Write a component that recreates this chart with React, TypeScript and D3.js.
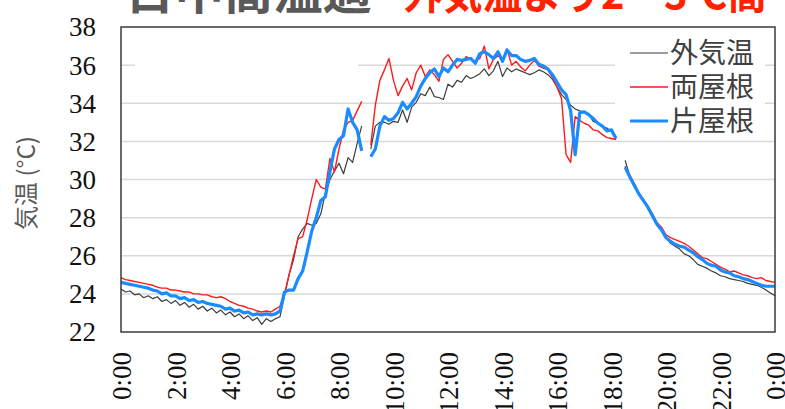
import React from "react";
import * as d3 from "d3";

// 10-minute readings, 0:00 → 24:00 (145 points); null = logger gap
const hours: number[] = Array.from({ length: 145 }, (_, i) => i / 6);

const outside: (number | null)[] = [
  24.25, 24.1, 24.15, 23.95, 24.0, 23.8, 23.9, 23.75, 23.85, 23.6,
  23.7, 23.5, 23.65, 23.4, 23.55, 23.3, 23.45, 23.2, 23.35, 23.1,
  23.25, 23.0, 23.15, 22.9, 23.05, 22.8, 22.95, 22.7, 22.85, 22.6,
  22.75, 22.4, 22.7, 22.55, 22.7, 22.8, 23.9, 25.0, 25.8, 27.0,
  27.4, 27.7, 27.6, 27.7, 28.2, 29.3, 30.0, 30.45, 30.85, 30.3,
  31.15, 30.9, 31.9, 32.8, null, 31.6, 32.8, 33.0, 33.0, 32.9,
  33.05, 33.0, 33.65, 33.0, 33.8, 34.05, 34.5, 34.4, 34.85, 34.35,
  34.3, 34.2, 35.0, 34.85, 35.2, 35.1, 35.45, 35.3, 35.4, 35.55,
  35.8, 35.45, 35.7, 36.2, 35.4, 35.85, 35.65, 35.8, 35.7, 35.6,
  35.5, 35.6, 35.75, 35.65, 35.5, 35.25, 34.85, 34.45, 34.2, 33.9,
  33.7, 33.6, 33.55, 33.4, 33.05, 32.95, 32.75, 32.7, 32.5, 32.1,
  null, 31.0, 30.2, 29.7, 29.3, 28.9, 28.6, 28.2, 27.7, 27.45,
  27.0, 26.65, 26.5, 26.35, 26.1, 26.0, 25.8, 25.55, 25.45, 25.35,
  25.2, 25.1, 24.95, 24.9, 24.8, 24.75, 24.7, 24.65, 24.55, 24.5,
  24.45, 24.35, 24.2, 24.05, 23.9,
];

const doubleRoof: (number | null)[] = [
  24.85, 24.75, 24.7, 24.65, 24.6, 24.55, 24.5, 24.45, 24.35, 24.3,
  24.3, 24.2, 24.2, 24.15, 24.1, 24.1, 24.0, 24.0, 23.95, 23.95,
  23.85, 23.8, 23.85, 23.75, 23.6, 23.5, 23.4, 23.35, 23.25, 23.2,
  23.1, 23.05, 23.1, 23.05, 23.2, 23.35, 24.0, 25.0, 26.0, 26.9,
  27.0, 27.9, 29.0, 30.0, 29.6, 29.5, 31.1, 30.4, 31.6, 32.6,
  33.0, 33.1, 33.6, 34.1, null, 31.8, 33.9, 35.2, 35.75, 36.35,
  35.2, 34.4, 34.9, 35.3, 34.7, 35.6, 36.0, 35.4, 35.75, 35.5,
  35.15, 36.3, 36.55, 36.2, 35.85, 36.1, 36.45, 36.3, 36.2, 36.35,
  37.0, 35.8, 36.3, 36.5, 36.3, 36.85, 36.0, 36.2, 35.9, 35.7,
  36.0, 36.25, 35.95, 35.85, 35.75, 35.35, 34.85, 34.25, 31.3, 30.9,
  33.3, 33.1, 32.95, 32.85, 32.6, 32.55, 32.35, 32.2, 32.15, 32.1,
  null, 30.7, 30.25, 29.8, 29.3, 28.95, 28.6, 28.2, 27.75, 27.5,
  27.1, 26.95, 26.85, 26.75, 26.65, 26.5, 26.3, 26.1, 25.9, 25.85,
  25.7, 25.55, 25.4, 25.3, 25.15, 25.2, 25.1, 25.0, 24.95, 24.85,
  24.8, 24.85, 24.7, 24.65, 24.6,
];

const singleRoof: (number | null)[] = [
  24.6, 24.55, 24.5, 24.45, 24.4, 24.35, 24.3, 24.2, 24.15, 24.0,
  24.05, 23.9, 23.9, 23.75, 23.8, 23.65, 23.7, 23.55, 23.6, 23.5,
  23.45, 23.4, 23.35, 23.2, 23.25, 23.1, 23.15, 23.0, 23.05, 22.9,
  22.95, 22.9, 22.95, 22.9, 22.95, 23.1, 24.1, 24.2, 24.2, 24.8,
  25.2, 26.2, 27.3, 28.0, 28.9, 29.1, 30.4, 31.6, 32.1, 32.3,
  33.7, 33.0, 32.6, 31.5, null, 31.2, 31.6, 32.8, 33.3, 33.1,
  33.2, 33.5, 34.05, 33.7, 34.0, 34.35, 34.9, 35.3, 35.6, 35.8,
  35.4, 35.85, 35.65, 36.0, 36.3, 36.25, 36.3, 36.35, 36.1, 36.6,
  36.7, 36.55, 36.35, 36.7, 36.2, 36.8, 36.5, 36.5, 36.3, 36.2,
  36.25, 36.35, 36.05, 35.95, 35.8, 35.5, 35.1, 34.7, 34.45, 33.6,
  31.3, 33.5, 33.55, 33.4, 33.2, 32.95, 32.8, 32.55, 32.6, 32.15,
  null, 30.65, 30.15, 29.7, 29.25, 28.9, 28.55, 28.1, 27.65, 27.35,
  26.95, 26.75, 26.6, 26.5, 26.45, 26.3, 26.15, 25.95, 25.8, 25.6,
  25.5, 25.45, 25.25, 25.15, 25.1, 24.95, 24.9, 24.8, 24.75, 24.65,
  24.55, 24.45, 24.4, 24.4, 24.4,
];

const yTicks: number[] = [22, 24, 26, 28, 30, 32, 34, 36, 38];
const xTicks: number[] = [0, 2, 4, 6, 8, 10, 12, 14, 16, 18, 20, 22, 24];
const xTickLabels: string[] = [
  "0:00", "2:00", "4:00", "6:00", "8:00", "10:00", "12:00",
  "14:00", "16:00", "18:00", "20:00", "22:00", "0:00",
];
const seriesNames: string[] = ["外気温", "両屋根", "片屋根"];
const titleLead = "日中高温過";
const titleTail = "外気温より2～3℃高";

const W = 785;
const H = 409;
const left = 121;
const right = 775;
const top = 27;
const bottom = 332;

export default function App() {
  const x = d3.scaleLinear().domain([0, 24]).range([left, right]);
  const y = d3.scaleLinear().domain([22, 38]).range([bottom, top]);

  const line = d3
    .line<number | null>()
    .defined((d) => d != null)
    .x((_, i) => x(hours[i]))
    .y((d) => y(d as number));

  const series = [
    { name: seriesNames[0], data: outside, color: "#3c3c3c", width: 1.2 },
    { name: seriesNames[1], data: doubleRoof, color: "#ff1a1a", width: 1.4 },
    { name: seriesNames[2], data: singleRoof, color: "#1a8cff", width: 3.2 },
  ];

  const serif = "'Liberation Serif', 'DejaVu Serif', serif";
  const cjk = "'Noto Sans CJK JP', 'Noto Sans', sans-serif";

  return (
    <svg
      width={W}
      height={H}
      style={{ position: "fixed", left: 0, top: 0, background: "#fff" }}
    >
      <rect x={0} y={0} width={W} height={H} fill="#fff" />

      {/* headline, clipped at the top edge */}
      <text
        x={125}
        y={9}
        fontFamily={cjk}
        fontWeight={700}
        fontSize={46}
        fill="#595959"
        textLength={247}
        lengthAdjust="spacingAndGlyphs"
      >
        {titleLead}
      </text>
      <text
        x={403}
        y={9}
        fontFamily={cjk}
        fontWeight={700}
        fontSize={42}
        fill="#ff2200"
        textLength={364}
        lengthAdjust="spacingAndGlyphs"
      >
        {titleTail}
      </text>

      {/* horizontal gridlines */}
      {yTicks.slice(1, -1).map((t) => (
        <line
          key={t}
          x1={left}
          x2={right}
          y1={y(t)}
          y2={y(t)}
          stroke="#d9d9d9"
          strokeWidth={1.5}
        />
      ))}

      {/* white boxes behind the caption area and legend */}
      <rect x={135} y={30} width={223} height={44} fill="#fff" />
      <rect x={615} y={30} width={150} height={100} fill="#fff" />

      {series.map((s) => (
        <path
          key={s.name}
          d={line(s.data) || ""}
          fill="none"
          stroke={s.color}
          strokeWidth={s.width}
          strokeLinejoin="round"
        />
      ))}

      {/* plot frame */}
      <rect
        x={left}
        y={top}
        width={right - left}
        height={bottom - top}
        fill="none"
        stroke="#3a3a3a"
        strokeWidth={1.5}
      />

      {/* y axis labels */}
      {yTicks.map((t) => (
        <text
          key={t}
          x={96}
          y={y(t)}
          dy="0.35em"
          textAnchor="end"
          fontFamily={serif}
          fontSize={27}
          fill="#111"
        >
          {t}
        </text>
      ))}

      {/* x axis labels, rotated */}
      {xTicks.map((t, i) => (
        <text
          key={i}
          transform={`translate(${x(t) + 1},352) rotate(-90)`}
          dy="0.35em"
          textAnchor="end"
          fontFamily={serif}
          fontSize={27}
          fill="#111"
        >
          {xTickLabels[i]}
        </text>
      ))}

      {/* y axis title */}
      <text
        transform="translate(27,183) rotate(-90)"
        dy="0.35em"
        textAnchor="middle"
        fontFamily={cjk}
        fontSize={24}
        fill="#595959"
      >
        気温 (°C)
      </text>

      {/* legend */}
      {series.map((s, i) => (
        <g key={s.name} transform={`translate(630,${53 + i * 34})`}>
          <line
            x1={0}
            x2={38}
            y1={0}
            y2={0}
            stroke={s.color}
            strokeWidth={s.width}
          />
          <text
            x={40}
            y={0}
            dy="0.36em"
            fontFamily={cjk}
            fontSize={28}
            fill="#404040"
          >
            {s.name}
          </text>
        </g>
      ))}
    </svg>
  );
}
